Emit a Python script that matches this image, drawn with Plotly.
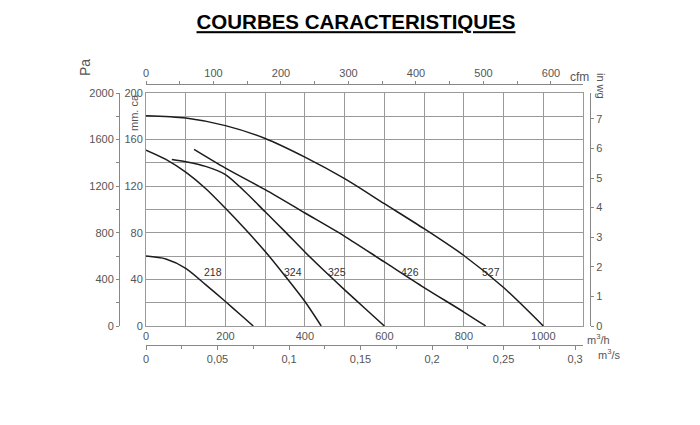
import plotly.graph_objects as go

# ---------------- data (flow in m3/h, pressure in mm.ca) ----------------
q_218 = [0, 50, 100, 150, 200, 240, 270]
p_218 = [60, 57.5, 49.5, 35.5, 21, 9, 0]

q_324 = [0, 50, 100, 150, 200, 250, 300, 350, 400, 441]
p_324 = [151, 143, 132, 118, 101, 83, 64, 43, 21, 0]

q_325 = [65, 100, 150, 200, 250, 300, 350, 400, 450, 500, 550, 600]
p_325 = [143, 141, 137, 130, 115, 98, 81, 63.5, 47, 31, 15.5, 0]

q_426 = [121, 200, 300, 400, 500, 600, 700, 800, 855]
p_426 = [151.6, 135.5, 117, 97, 77, 55, 33, 12, 0]

q_527 = [0, 100, 200, 300, 400, 500, 600, 700, 800, 900, 1000]
p_527 = [180.5, 178.5, 172, 161, 145, 126.5, 105, 83.5, 60.5, 33, 0]

series_names = ["218", "324", "325", "426", "527"]
series_q = [q_218, q_324, q_325, q_426, q_527]
series_p = [p_218, p_324, p_325, p_426, p_527]

# curve label anchor points (m3/h, mm.ca)
label_q = [168, 369, 480, 665, 869]
label_p = [46.6, 46.6, 46.6, 46.6, 46.6]

# axis tick definitions
m3h_ticks = [0, 200, 400, 600, 800, 1000]
m3h_minor = [100, 300, 500, 700, 900, 1100]
mmca_ticks = [0, 40, 80, 120, 160, 200]
mmca_minor = [20, 60, 100, 140, 180]
pa_ticks = [0, 400, 800, 1200, 1600, 2000]
pa_minor = [200, 600, 1000, 1400, 1800]
cfm_ticks = [0, 100, 200, 300, 400, 500, 600]
cfm_minor = [50, 150, 250, 350, 450, 550]
inwg_ticks = [0, 1, 2, 3, 4, 5, 6, 7]
m3s_ticks = [0, 0.05, 0.1, 0.15, 0.2, 0.25, 0.3]
m3s_text = ["0", "0,05", "0,1", "0,15", "0,2", "0,25", "0,3"]
m3s_minor = [0.025, 0.075, 0.125, 0.175, 0.225, 0.275]

Q_MAX = 1100.0
P_MAX = 200.0

# ---------------- layout geometry (page has an 8px body margin) ----------------
OFF = 8
W, H = 700 - OFF, 425 - OFF
ML, MR, MT, MB = 20, 20, 20, 20
PW, PH = W - ML - MR, H - MT - MB


def px(x):
    return (x - OFF - ML) / PW


def py(y):
    return (H - MB - (y - OFF)) / PH


X0, X1 = px(146), px(583)
Y0, Y1 = py(326), py(93)

FONT = "Liberation Sans, Arial, sans-serif"
TICKC = "#555555"
GRIDC = "#9a9a9a"
AXC = "#888888"

fig = go.Figure()
for name, q, p in zip(series_names, series_q, series_p):
    fig.add_trace(go.Scatter(x=q, y=p, mode="lines", name=name,
                             line=dict(color="#1c1c1c", width=1.5, shape="spline", smoothing=0.8),
                             hoverinfo="skip", showlegend=False))

# dummy traces so the extra axes are drawn
fig.add_trace(go.Scatter(x=[None], y=[None], xaxis="x2", yaxis="y", showlegend=False, hoverinfo="skip"))
fig.add_trace(go.Scatter(x=[None], y=[None], xaxis="x3", yaxis="y", showlegend=False, hoverinfo="skip"))
fig.add_trace(go.Scatter(x=[None], y=[None], xaxis="x", yaxis="y2", showlegend=False, hoverinfo="skip"))
fig.add_trace(go.Scatter(x=[None], y=[None], xaxis="x", yaxis="y3", showlegend=False, hoverinfo="skip"))

tickfont = dict(family=FONT, size=11, color=TICKC)

fig.update_layout(
    width=W, height=H,
    margin=dict(l=ML, r=MR, t=MT, b=MB),
    paper_bgcolor="white", plot_bgcolor="white",
    showlegend=False,
    title=dict(text="<b><u>COURBES CARACTERISTIQUES</u></b>", xref="container", yref="container",
               x=(356 - OFF) / W, y=1 - (22 - OFF) / H, xanchor="center", yanchor="middle",
               font=dict(family=FONT, size=20.5, color="black")),
    xaxis=dict(domain=[X0, X1], range=[0, Q_MAX], anchor="y",
               tickmode="array", tickvals=m3h_ticks,
               showgrid=True, gridcolor=GRIDC, gridwidth=1,
               minor=dict(tickvals=m3h_minor, showgrid=True, gridcolor=GRIDC, gridwidth=1, ticks=""),
               showline=True, mirror=True, linecolor=GRIDC, linewidth=1,
               ticks="", zeroline=False, tickfont=tickfont),
    yaxis=dict(domain=[Y0, Y1], range=[0, P_MAX], anchor="x",
               tickmode="array", tickvals=mmca_ticks,
               showgrid=True, gridcolor=GRIDC, gridwidth=1,
               minor=dict(tickvals=mmca_minor, showgrid=True, gridcolor=GRIDC, gridwidth=1, ticks=""),
               showline=True, mirror=True, linecolor=GRIDC, linewidth=1,
               ticks="", zeroline=False, tickfont=tickfont),
    xaxis2=dict(overlaying="x", side="top", anchor="free", position=py(84),
                range=[0, Q_MAX / 1.699], tickmode="array", tickvals=cfm_ticks,
                showgrid=False, zeroline=False, showline=True, linecolor=AXC, linewidth=1,
                ticks="outside", ticklen=3, tickcolor=AXC,
                minor=dict(ticks="outside", tickvals=cfm_minor, ticklen=3, tickcolor=AXC),
                tickfont=tickfont),
    xaxis3=dict(overlaying="x", side="bottom", anchor="free", position=py(345),
                range=[0, Q_MAX / 3600.0], tickmode="array", tickvals=m3s_ticks, ticktext=m3s_text,
                showgrid=False, zeroline=False, showline=True, linecolor=AXC, linewidth=1,
                ticks="outside", ticklen=4, tickcolor=AXC,
                minor=dict(ticks="outside", tickvals=m3s_minor, ticklen=3, tickcolor=AXC),
                tickfont=tickfont),
    yaxis2=dict(overlaying="y", side="left", anchor="free", position=px(119),
                range=[0, 2000], tickmode="array", tickvals=pa_ticks,
                showgrid=False, zeroline=False, showline=True, linecolor=AXC, linewidth=1,
                ticks="outside", ticklen=3, tickcolor=AXC,
                minor=dict(ticks="outside", tickvals=pa_minor, ticklen=3, tickcolor=AXC),
                tickfont=tickfont),
    yaxis3=dict(overlaying="y", side="right", anchor="free", position=px(590),
                range=[0, P_MAX / 25.4], tickmode="array", tickvals=inwg_ticks,
                showgrid=False, zeroline=False, showline=True, linecolor=AXC, linewidth=1,
                ticks="outside", ticklen=3, tickcolor=AXC,
                tickfont=tickfont),
)

# curve labels
for name, lq, lp in zip(series_names, label_q, label_p):
    fig.add_annotation(x=lq, y=lp, xref="x", yref="y", text=name, showarrow=False,
                       xanchor="center", yanchor="middle",
                       font=dict(family=FONT, size=10.5, color="#333333"))


def unit_label(x, y, text, angle=0, size=11):
    fig.add_annotation(x=px(x), y=py(y), xref="paper", yref="paper", text=text, textangle=angle,
                       xanchor="center", yanchor="middle", showarrow=False,
                       font=dict(family=FONT, size=size, color=TICKC))


unit_label(85, 68, "Pa", angle=-90, size=14)
unit_label(134, 113, "mm. ca", angle=-90)
unit_label(579, 77, "cfm", size=12)
unit_label(601, 86, "in wg", angle=90)
unit_label(598, 339, "m<sup>3</sup>/h")
unit_label(609, 354, "m<sup>3</sup>/s")

fig.write_html("out.html")
